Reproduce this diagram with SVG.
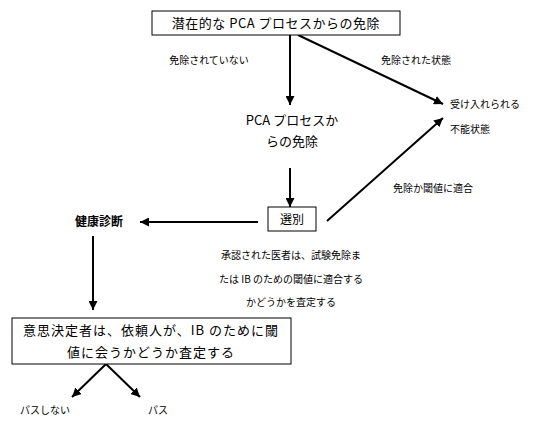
<svg xmlns="http://www.w3.org/2000/svg" width="539" height="425" viewBox="0 0 539 425">
<defs>
<marker id="ah" viewBox="0 0 10 10" refX="10" refY="5" markerWidth="9" markerHeight="9" markerUnits="userSpaceOnUse" orient="auto">
<path d="M0,0 L10,5 L0,10 z" fill="#000"/>
</marker>
<style>
text{font-family:"Noto Sans CJK JP","Noto Sans",sans-serif;fill:#000}
.s{font-size:10px}
.m{font-size:12px}
.l{font-size:13px}
.w{font-size:13px;letter-spacing:0.5px}
.w2{font-size:13px;letter-spacing:1px}
.b{font-weight:bold}
.box{fill:#fff;stroke:#000;stroke-width:1}
.c{stroke:#000;stroke-width:2;fill:none;marker-end:url(#ah)}
</style>
</defs>
<rect width="539" height="425" fill="#fff"/>
<g id="connectors">
<line class="c" x1="290" y1="35" x2="290" y2="105"/>
<line class="c" x1="298" y1="35" x2="443" y2="104"/>
<line class="c" x1="290" y1="168" x2="290" y2="207"/>
<line class="c" x1="258" y1="222" x2="140" y2="222"/>
<line class="c" x1="327" y1="221" x2="443" y2="118"/>
<line class="c" x1="93" y1="236" x2="93" y2="310"/>
<line class="c" x1="106" y1="364" x2="72" y2="397"/>
<line class="c" x1="106" y1="364" x2="140" y2="397"/>
<text class="s" x="209" y="64" text-anchor="middle">免除されていない</text>
<text class="s" x="416" y="64" text-anchor="middle">免除された状態</text>
<text class="s" x="433" y="192" text-anchor="middle">免除か閾値に適合</text>
</g>
<g id="n-top">
<rect class="box" x="152" y="11" width="248" height="24"/>
<text class="w" x="276" y="28" text-anchor="middle">潜在的な PCA プロセスからの免除</text>
</g>
<g id="n-exempt">
<text class="l" x="292" y="125" text-anchor="middle">PCA プロセスか</text>
<text class="l" x="292" y="146" text-anchor="middle">らの免除</text>
</g>
<g id="n-unacceptable">
<text class="s" x="450" y="108">受け入れられる</text>
<text class="s" x="450" y="133">不能状態</text>
</g>
<g id="n-select">
<rect class="box" x="268" y="207" width="48" height="24"/>
<text class="m" x="292" y="224" text-anchor="middle">選別</text>
</g>
<g id="n-health">
<text class="m b" x="99" y="226" text-anchor="middle">健康診断</text>
</g>
<g id="n-doctor">
<text class="s" x="291" y="259" text-anchor="middle">承認された医者は、試験免除ま</text>
<text class="s" x="291" y="283" text-anchor="middle">たは IB のための閾値に適合する</text>
<text class="s" x="291" y="306" text-anchor="middle">かどうかを査定する</text>
</g>
<g id="n-decider">
<rect class="box" x="12" y="318" width="279" height="46"/>
<text class="w2" x="151" y="335" text-anchor="middle">意思決定者は、依頼人が、IB のために閾</text>
<text class="w2" x="151" y="357" text-anchor="middle">値に会うかどうか査定する</text>
</g>
<g id="n-fail">
<text class="s" x="20" y="414">パスしない</text>
</g>
<g id="n-pass">
<text class="s" x="148" y="414">パス</text>
</g>
</svg>
